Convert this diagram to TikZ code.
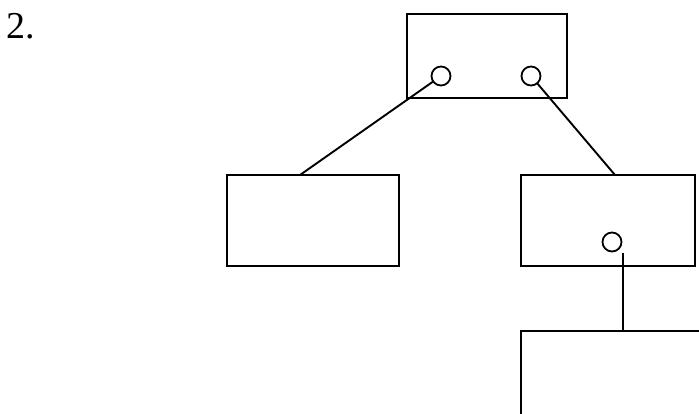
\documentclass[tikz,border=0pt]{standalone}
\usepackage{fontspec}
\setmainfont{Liberation Serif}
\begin{document}
\begin{tikzpicture}[x=1pt,y=-1pt,
  blk/.style={draw=black,line width=2pt,inner sep=0pt,outer sep=0pt},
  port/.style={draw=black,line width=1.8pt,circle,inner sep=0pt,minimum size=19pt,outer sep=0pt},
  wire/.style={draw=black,line width=1.9pt}]
\useasboundingbox (0,0) rectangle (699,414);
\clip (0,0) rectangle (699,414);
\fill[white] (0,0) rectangle (699,414);
\node[anchor=base west,inner sep=0pt,font=\fontsize{38}{40}\selectfont] (lbl) at (6,39) {2.};
\draw[blk] (407,14) rectangle (567,98);
\draw[blk] (227,175) rectangle (399,266);
\draw[blk] (521,175) rectangle (695,266);
\draw[blk] (521,420) -- (521,331) -- (705,331);
\node[port] (c1) at (441,76) {};
\node[port] (c2) at (531,76) {};
\node[port] (c3) at (612,242) {};
\coordinate (t2) at (300,175);
\coordinate (t3) at (615,175);
\coordinate (s3) at (623,253);
\coordinate (t4) at (623,331);
\draw[wire] (c1) -- (t2);
\draw[wire] (c2) -- (t3);
\draw[wire] (s3) -- (t4);
\end{tikzpicture}
\end{document}
